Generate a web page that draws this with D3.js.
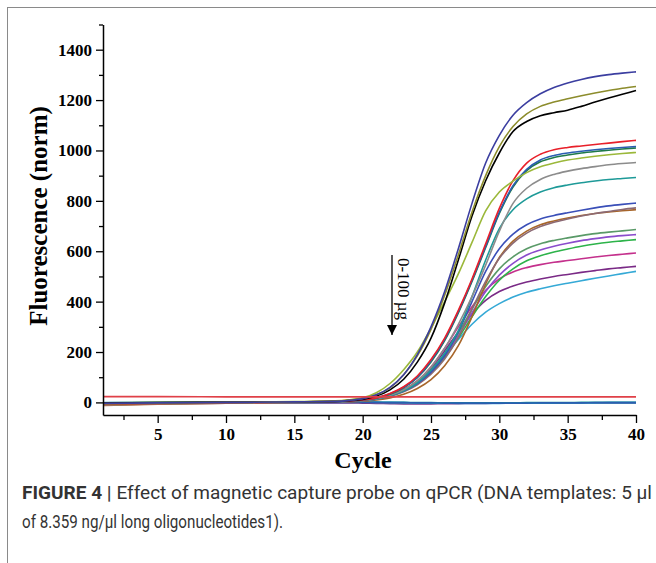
<!DOCTYPE html>
<html>
<head>
<meta charset="utf-8">
<script src="https://cdn.jsdelivr.net/npm/d3@7/dist/d3.min.js"></script>
<style>
  html, body { margin: 0; padding: 0; background: #fff; }
  svg { display: block; }
</style>
</head>
<body>
<svg id="chart" width="656" height="563"></svg>
<script>
// ---------------- DATA ----------------
const cycles = [1, 5, 10, 15, 18, 19, 20, 21, 22, 23, 24, 25, 26, 27, 28, 29, 30, 31, 32, 33, 34, 35, 36, 37, 38, 39, 40];

const navy        = [-4,-2,0,2,4,8, 15,30,60,110,190,300,440,610,790,950,1060,1140,1190,1225,1250,1268,1282,1293,1301,1307,1312];
const olive       = [-6,-3,0,2,5,9, 16,30,58,110,185,290,425,585,755,900,1015,1095,1145,1175,1192,1205,1217,1228,1238,1247,1254];
const black       = [-3,-1,1,2,4,7, 12,25,50,92,160,255,395,565,740,880,990,1075,1115,1138,1150,1160,1175,1192,1208,1223,1238];
const red         = [-8,-4,-1,2,4,6, 10,18,35,62,105,170,255,365,490,630,770,880,950,985,1003,1012,1018,1024,1029,1035,1040];
const blue        = [-5,-3,0,1,3,6, 10,18,34,60,100,165,250,360,485,620,755,860,925,962,980,990,997,1003,1008,1012,1016];
const darkGreen   = [-6,-3,0,1,3,6, 10,17,32,58,98,160,245,355,480,615,750,855,920,955,972,982,990,996,1001,1006,1010];
const yellowGreen = [-2,0,1,3,6,10, 18,38,75,130,200,295,400,510,635,760,835,878,912,935,950,962,970,977,983,988,992];
const gray        = [-10,-5,-1,1,3,5, 8,15,28,50,85,140,215,310,420,545,680,790,850,885,905,918,928,936,943,948,952];
const teal        = [-5,-3,0,1,3,5, 8,14,26,46,78,128,195,285,420,565,690,765,808,835,852,863,872,879,885,889,893];
const blue2       = [-4,-2,0,1,3,5, 8,14,26,45,75,120,185,280,400,520,610,668,705,728,742,753,763,772,780,786,791];
const mauve       = [-6,-3,-1,1,2,4, 7,13,24,42,70,112,172,258,370,480,572,632,672,698,715,728,740,750,758,766,772];
const brown       = [-12,-7,-3,0,2,3, 5,10,18,32,55,90,145,225,340,470,575,640,680,705,720,732,742,750,756,761,765];
const seaGreen    = [-5,-2,0,1,3,5, 8,15,28,48,80,125,190,275,370,460,530,578,610,630,643,653,662,670,676,681,686];
const purple      = [-7,-4,-1,1,3,5, 8,15,27,47,78,122,185,265,355,440,505,552,585,605,620,632,642,650,657,662,666];
const green       = [-4,-2,0,1,3,5, 8,14,26,45,75,118,178,255,340,420,485,530,562,582,597,609,620,629,636,641,646];
const magenta     = [-8,-4,-1,1,3,5, 8,15,28,50,85,140,215,300,380,445,490,518,535,547,556,563,570,577,583,588,593];
const darkPurple  = [-6,-3,0,1,3,5, 8,15,28,50,84,135,205,280,350,405,440,462,478,490,500,508,516,523,530,535,540];
const skyBlue     = [-3,-1,0,1,3,5, 8,14,27,48,78,120,185,250,310,358,392,418,437,451,463,473,483,493,502,511,520];

// flat (no amplification) traces
const flatBlue    = [-2,-1,0,0,0,0, 0,0,-1,-1,-2,-2,-3,-3,-3,-3,-3,-3,-3,-2,-2,-2,-2,-1,-1,-1,-1];
const flatTeal    = [-5,-3,-1,0,1,1, 1,1,0,0,-1,-1,-2,-2,-2,-2,-2,-2,-1,-1,-1,-1,0,0,0,0,0];
const flatSky     = [-1,0,1,1,1,1, 1,0,0,-1,-2,-3,-3,-4,-4,-4,-4,-3,-3,-3,-3,-2,-2,-2,-1,-1,-1];
const flatPurple  = [-10,-6,-3,-2,-2,-2, -3,-4,-5,-6,-6,-6,-5,-5,-4,-4,-3,-3,-3,-3,-2,-2,-2,-2,-2,-2,-2];
const flatRed     = [23,23,22,22,22,22, 22,22,22,22,22,22,22,22,22,22,22,22,22,22,22,22,22,22,22,22,22];

const yTicksMajor = [0, 200, 400, 600, 800, 1000, 1200, 1400];
const yTicksMinor = [100, 300, 500, 700, 900, 1100, 1300, 1500];
const xTicksMajor = [5, 10, 15, 20, 25, 30, 35, 40];
const xTicksMinor = [2.5, 7.5, 12.5, 17.5, 22.5, 27.5, 32.5, 37.5];

const series = [
  {v: flatPurple, c: "#7a3a8a"},
  {v: flatSky, c: "#3aa8d8"},
  {v: flatTeal, c: "#1a9a9a"},
  {v: flatBlue, c: "#2a5db0"},
  {v: skyBlue, c: "#35a9d6"},
  {v: darkPurple, c: "#7a2a86"},
  {v: magenta, c: "#c4308c"},
  {v: green, c: "#2db34a"},
  {v: purple, c: "#8a4ccc"},
  {v: seaGreen, c: "#5a9a68"},
  {v: brown, c: "#a8662a"},
  {v: mauve, c: "#8c6a74"},
  {v: blue2, c: "#3a4fb8"},
  {v: teal, c: "#1e9a98"},
  {v: gray, c: "#8c8c8c"},
  {v: darkGreen, c: "#1f7a4a"},
  {v: blue, c: "#2a5db0"},
  {v: red, c: "#e8202a"},
  {v: yellowGreen, c: "#9bb83a"},
  {v: black, c: "#000000"},
  {v: olive, c: "#8c8c2c"},
  {v: navy, c: "#3b3ea0"},
  {v: flatRed, c: "#e04048"}
];

// ---------------- LAYOUT ----------------
const svg = d3.select("#chart");
svg.append("rect").attr("width", 656).attr("height", 563).attr("fill", "#fff");

// frame lines
svg.append("line").attr("x1", 7.5).attr("x2", 7.5).attr("y1", 7).attr("y2", 563)
  .attr("stroke", "#8a8a8a").attr("stroke-width", 1);
svg.append("line").attr("x1", 7).attr("x2", 656).attr("y1", 7.5).attr("y2", 7.5)
  .attr("stroke", "#8a8a8a").attr("stroke-width", 1);

const x = d3.scaleLinear().domain([1, 40]).range([103, 636]);
const y = d3.scaleLinear().domain([-50, 1500]).range([415, 24.5]);

const serif = "'Liberation Serif', 'Times New Roman', serif";

// curves
const line = d3.line()
  .x((d, i) => x(cycles[i]))
  .y(d => y(d))
  .curve(d3.curveMonotoneX);

const g = svg.append("g");
series.forEach(s => {
  g.append("path")
    .attr("d", line(s.v))
    .attr("fill", "none")
    .attr("stroke", s.c)
    .attr("stroke-width", 1.6);
});

// y axis
const yAxis = d3.axisLeft(y).tickValues(yTicksMajor).tickFormat(d3.format("d"))
  .tickSize(7).tickSizeOuter(0).tickPadding(4);
const ya = svg.append("g").attr("transform", "translate(103,0)").call(yAxis);
ya.selectAll("text").attr("font-family", serif).attr("font-weight", "bold").attr("font-size", "17px").attr("fill", "#000");
ya.selectAll("line").attr("stroke", "#000").attr("stroke-width", 1.3);
ya.select(".domain").attr("stroke", "#000").attr("stroke-width", 1.5);
const yAxisMinor = d3.axisLeft(y).tickValues(yTicksMinor).tickSize(4).tickSizeOuter(0).tickFormat("");
const yam = svg.append("g").attr("transform", "translate(103,0)").call(yAxisMinor);
yam.select(".domain").remove();
yam.selectAll("line").attr("stroke", "#000").attr("stroke-width", 1.3);

// x axis
const xAxis = d3.axisBottom(x).tickValues(xTicksMajor).tickFormat(d3.format("d"))
  .tickSize(8).tickSizeOuter(0).tickPadding(5);
const xa = svg.append("g").attr("transform", "translate(0,415)").call(xAxis);
xa.selectAll("text").attr("font-family", serif).attr("font-weight", "bold").attr("font-size", "17px").attr("fill", "#000");
xa.selectAll("line").attr("stroke", "#000").attr("stroke-width", 1.3);
xa.select(".domain").attr("stroke", "#000").attr("stroke-width", 1.5);
const xAxisMinor = d3.axisBottom(x).tickValues(xTicksMinor).tickSize(5).tickSizeOuter(0).tickFormat("");
const xam = svg.append("g").attr("transform", "translate(0,415)").call(xAxisMinor);
xam.select(".domain").remove();
xam.selectAll("line").attr("stroke", "#000").attr("stroke-width", 1.3);

// axis titles
svg.append("text")
  .attr("x", 363).attr("y", 468)
  .attr("text-anchor", "middle")
  .attr("font-family", serif).attr("font-weight", "bold").attr("font-size", "24px")
  .text("Cycle");
svg.append("text")
  .attr("transform", "translate(47,216) rotate(-90)")
  .attr("text-anchor", "middle")
  .attr("font-family", serif).attr("font-weight", "bold").attr("font-size", "25px")
  .text("Fluorescence (norm)");

// annotation arrow
const defs = svg.append("defs");
defs.append("marker").attr("id", "ah").attr("viewBox", "0 0 10 10")
  .attr("refX", 10).attr("refY", 5).attr("markerWidth", 10).attr("markerHeight", 10)
  .attr("markerUnits", "userSpaceOnUse").attr("orient", "auto")
  .append("path").attr("d", "M0,0 L10,5 L0,10 Z").attr("fill", "#000");
svg.append("line")
  .attr("x1", 392).attr("x2", 392).attr("y1", 255).attr("y2", 335)
  .attr("stroke", "#000").attr("stroke-width", 1.3)
  .attr("marker-end", "url(#ah)");
svg.append("text")
  .attr("transform", "translate(398,289) rotate(90)")
  .attr("text-anchor", "middle")
  .attr("font-family", serif).attr("font-size", "17px")
  .text("0-100 µg");

// caption
const capFont = "'Liberation Sans Narrow', 'Arial Narrow', 'Roboto', 'Liberation Sans', sans-serif";
const cap1 = svg.append("text")
  .attr("x", 22).attr("y", 499)
  .attr("font-family", capFont).attr("font-size", "19px").attr("fill", "#333")
  .attr("textLength", 630).attr("lengthAdjust", "spacingAndGlyphs");
cap1.append("tspan").attr("font-weight", "bold").text("FIGURE 4");
cap1.append("tspan").attr("font-weight", "bold").attr("fill", "#444").text(" | ");
cap1.append("tspan").text("Effect of magnetic capture probe on qPCR (DNA templates: 5 µl");
svg.append("text")
  .attr("x", 22).attr("y", 528)
  .attr("font-family", capFont).attr("font-size", "19px").attr("fill", "#333")
  .attr("textLength", 261).attr("lengthAdjust", "spacingAndGlyphs")
  .text("of 8.359 ng/µl long oligonucleotides1).");
</script>
</body>
</html>
